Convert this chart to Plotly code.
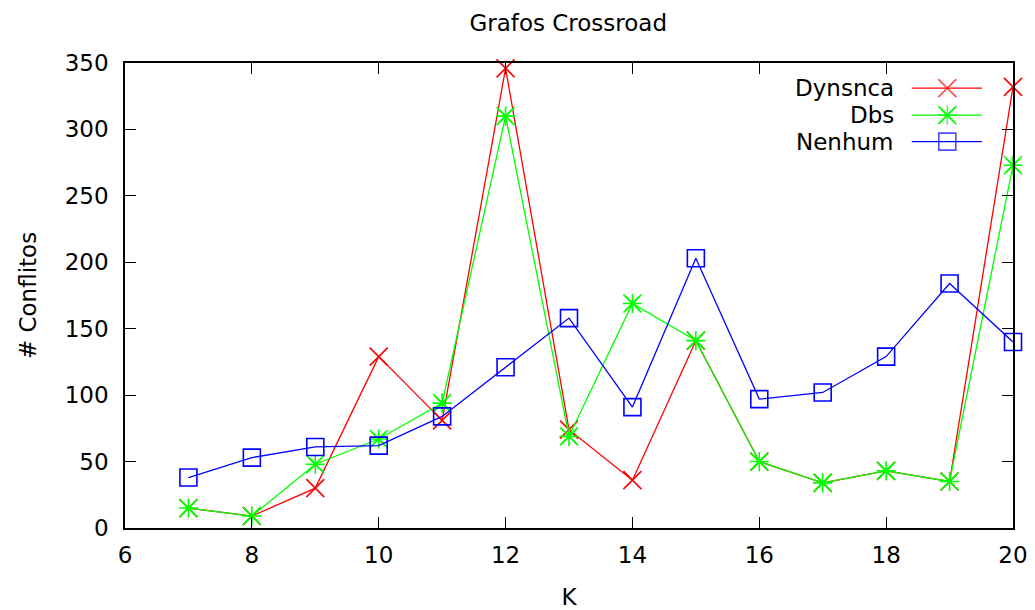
import plotly.graph_objects as go

k_values = [7, 8, 9, 10, 11, 12, 13, 14, 15, 16, 17, 18, 19, 20]
dynsnca = [15, 9, 30, 129, 81, 346, 74, 36, 141, 50, 34, 43, 35, 332]
dbs = [15, 9, 48, 67, 94, 310, 69, 169, 141, 50, 34, 43, 35, 273]
nenhum = [38, 53, 61, 62, 84, 121, 158, 91, 203, 97, 102, 129, 184, 140]

series_names = ["Dynsnca", "Dbs", "Nenhum"]
series_data = [dynsnca, dbs, nenhum]
series_colors = ["#ff0000", "#00ff00", "#0000ff"]
series_symbols = ["x-thin-open", "asterisk-open", "square-open"]
series_sizes = [18, 16, 17]

x_ticks = [6, 8, 10, 12, 14, 16, 18, 20]
y_ticks = [0, 50, 100, 150, 200, 250, 300, 350]

FONT = "DejaVu Sans"
FS = 23
fig = go.Figure()

for name, data, color, sym, size in zip(series_names, series_data, series_colors, series_symbols, series_sizes):
    fig.add_trace(go.Scatter(
        x=k_values, y=data, name=name, mode="lines+markers",
        line=dict(color=color, width=1.3),
        marker=dict(symbol=sym, size=size, color=color, line=dict(color=color, width=1.6)),
        showlegend=False, cliponaxis=False,
    ))
    if sym == "asterisk-open":
        # gnuplot star: plus + full-size x
        fig.add_trace(go.Scatter(
            x=k_values, y=data, mode="markers",
            marker=dict(symbol="x-thin-open", size=18, color=color, line=dict(color=color, width=1.6)),
            showlegend=False, cliponaxis=False, hoverinfo="skip",
        ))

# gnuplot-style key (text right, sample to the right)
key_y = [0.946, 0.888, 0.831]
for name, color, sym, size, ky in zip(series_names, series_colors, series_symbols, series_sizes, key_y):
    fig.add_trace(go.Scatter(
        x=[0.886, 0.926, 0.965], y=[ky, ky, ky], xaxis="x2", yaxis="y2",
        mode="lines+markers", line=dict(color=color, width=1.3),
        marker=dict(symbol=sym, size=[0, size, 0], color=color, line=dict(color=color, width=1.6)),
        showlegend=False, hoverinfo="skip",
    ))
    if sym == "asterisk-open":
        fig.add_trace(go.Scatter(
            x=[0.926], y=[ky], xaxis="x2", yaxis="y2", mode="markers",
            marker=dict(symbol="x-thin-open", size=18, color=color, line=dict(color=color, width=1.6)),
            showlegend=False, hoverinfo="skip",
        ))
    fig.add_annotation(x=0.868, y=ky, xref="paper", yref="paper", text=name,
                       showarrow=False, xanchor="right", yanchor="middle",
                       font=dict(family=FONT, size=FS, color="black"))

axis_common = dict(
    showline=True, linecolor="black", linewidth=1.5, mirror="ticks",
    ticks="inside", ticklen=11, tickwidth=1.3, tickcolor="black",
    showgrid=False, zeroline=False, automargin=False,
    tickfont=dict(family=FONT, size=FS, color="black"),
)

fig.update_layout(
    width=1035, height=610,
    margin=dict(l=125, r=22, t=63, b=82),
    paper_bgcolor="white", plot_bgcolor="white",
    title=dict(text="Grafos Crossroad", x=0.549, xanchor="center", y=0.963, yanchor="middle",
               font=dict(family=FONT, size=FS, color="black")),
    xaxis=dict(range=[6, 20], tickvals=x_ticks, ticktext=[str(v) for v in x_ticks],
               ticklabelstandoff=6,
               title=dict(text="K", font=dict(family=FONT, size=FS, color="black"), standoff=22),
               **axis_common),
    yaxis=dict(range=[0, 350], tickvals=y_ticks, ticktext=[str(v) for v in y_ticks],
               ticklabelstandoff=10,
               title=dict(text="# Conflitos", font=dict(family=FONT, size=FS, color="black"), standoff=22),
               **axis_common),
    xaxis2=dict(range=[0, 1], overlaying="x", visible=False),
    yaxis2=dict(range=[0, 1], overlaying="y", visible=False),
    font=dict(family=FONT, size=FS, color="black"),
)

fig.write_html("out.html")
